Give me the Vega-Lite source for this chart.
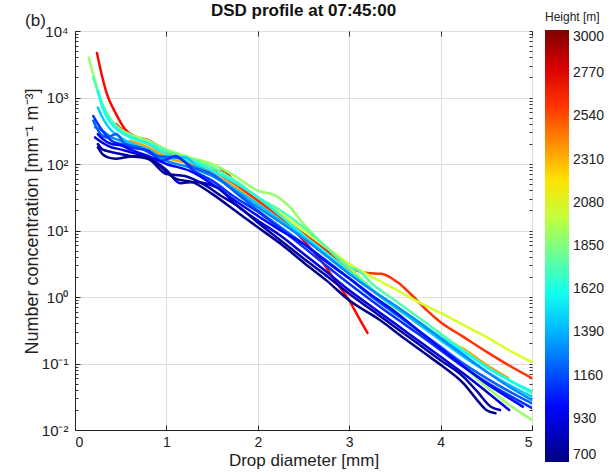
{
  "$schema": "https://vega.github.io/schema/vega-lite/v6.json",
  "width": 457,
  "height": 399,
  "autosize": {"type": "none"},
  "padding": {"left": 75, "top": 31, "right": 81, "bottom": 46},
  "background": "white",
  "config": {"view": {"stroke": "#222222", "strokeWidth": 1}, "font": "Liberation Sans"},
  "title": {"text": "DSD profile at 07:45:00", "fontSize": 17, "fontWeight": "bold", "color": "#111111", "anchor": "middle", "offset": 7, "dy": 16},
  "datasets": {
    "dsd": [
      {"h":2700,"D":0.24,"N":4680},{"h":2700,"D":0.3,"N":2000},{"h":2700,"D":0.35,"N":1120},{"h":2700,"D":0.45,"N":562},{"h":2700,"D":0.55,"N":331},{"h":2700,"D":0.65,"N":263},{"h":2700,"D":0.8,"N":229},{"h":2700,"D":1.0,"N":158},{"h":2700,"D":1.25,"N":112},{"h":2700,"D":1.5,"N":79.4},{"h":2700,"D":1.62,"N":79.4},{"h":2700,"D":1.75,"N":52.5},{"h":2700,"D":2.0,"N":28.2},{"h":2700,"D":2.25,"N":15.8},{"h":2700,"D":2.5,"N":7.08},{"h":2700,"D":2.72,"N":3.16},{"h":2700,"D":2.87,"N":1.58},{"h":2700,"D":3.0,"N":0.891},{"h":2700,"D":3.1,"N":0.501},{"h":2700,"D":3.2,"N":0.288},
      {"h":2600,"D":0.45,"N":398},{"h":2600,"D":0.6,"N":263},{"h":2600,"D":0.8,"N":200},{"h":2600,"D":1.0,"N":141},{"h":2600,"D":1.25,"N":112},{"h":2600,"D":1.5,"N":79.4},{"h":2600,"D":1.75,"N":50.1},{"h":2600,"D":2.0,"N":28.2},{"h":2600,"D":2.25,"N":15.8},{"h":2600,"D":2.5,"N":8.91},{"h":2600,"D":2.75,"N":5.01},{"h":2600,"D":3.0,"N":2.82},{"h":2600,"D":3.2,"N":2.29},{"h":2600,"D":3.35,"N":2.24},{"h":2600,"D":3.53,"N":1.66},{"h":2600,"D":3.67,"N":1.12},{"h":2600,"D":3.85,"N":0.63},{"h":2600,"D":4.0,"N":0.417},{"h":2600,"D":4.25,"N":0.251},{"h":2600,"D":4.5,"N":0.151},{"h":2600,"D":4.75,"N":0.0933},{"h":2600,"D":5.0,"N":0.0603},
      {"h":2350,"D":0.6,"N":224},{"h":2350,"D":0.8,"N":178},{"h":2350,"D":1.0,"N":126},{"h":2350,"D":1.25,"N":100},{"h":2350,"D":1.5,"N":70.8},{"h":2350,"D":1.75,"N":44.7},{"h":2350,"D":2.0,"N":25.1},{"h":2350,"D":2.25,"N":14.1},{"h":2350,"D":2.5,"N":7.94},{"h":2350,"D":2.75,"N":4.47},{"h":2350,"D":3.0,"N":2.51},{"h":2350,"D":3.25,"N":1.26},{"h":2350,"D":3.5,"N":0.708},{"h":2350,"D":3.75,"N":0.398},{"h":2350,"D":4.0,"N":0.251},{"h":2350,"D":4.25,"N":0.166},{"h":2350,"D":4.5,"N":0.0955},{"h":2350,"D":4.74,"N":0.0603},
      {"h":2050,"D":0.7,"N":251},{"h":2050,"D":0.8,"N":214},{"h":2050,"D":1.0,"N":158},{"h":2050,"D":1.25,"N":120},{"h":2050,"D":1.5,"N":89.1},{"h":2050,"D":1.75,"N":56.2},{"h":2050,"D":2.0,"N":31.6},{"h":2050,"D":2.25,"N":17.8},{"h":2050,"D":2.5,"N":10},{"h":2050,"D":2.75,"N":5.62},{"h":2050,"D":3.0,"N":3.16},{"h":2050,"D":3.25,"N":2.0},{"h":2050,"D":3.5,"N":1.32},{"h":2050,"D":3.75,"N":0.851},{"h":2050,"D":4.0,"N":0.575},{"h":2050,"D":4.25,"N":0.38},{"h":2050,"D":4.5,"N":0.251},{"h":2050,"D":4.75,"N":0.158},{"h":2050,"D":5.0,"N":0.105},
      {"h":1900,"D":0.15,"N":3980},{"h":1900,"D":0.2,"N":2240},{"h":1900,"D":0.25,"N":1260},{"h":1900,"D":0.3,"N":794},{"h":1900,"D":0.4,"N":447},{"h":1900,"D":0.5,"N":331},{"h":1900,"D":0.6,"N":282},{"h":1900,"D":0.8,"N":224},{"h":1900,"D":1.0,"N":166},{"h":1900,"D":1.25,"N":126},{"h":1900,"D":1.5,"N":100},{"h":1900,"D":1.75,"N":66.1},{"h":1900,"D":2.0,"N":39.8},{"h":1900,"D":2.2,"N":33.1},{"h":1900,"D":2.35,"N":22.4},{"h":1900,"D":2.5,"N":12.6},{"h":1900,"D":2.75,"N":5.62},{"h":1900,"D":3.0,"N":2.82},{"h":1900,"D":3.25,"N":1.32},{"h":1900,"D":3.5,"N":0.631},{"h":1900,"D":3.75,"N":0.316},{"h":1900,"D":4.0,"N":0.166},{"h":1900,"D":4.25,"N":0.0891},{"h":1900,"D":4.5,"N":0.0447},{"h":1900,"D":4.75,"N":0.024},{"h":1900,"D":5.0,"N":0.0141},
      {"h":1750,"D":0.2,"N":2000},{"h":1750,"D":0.3,"N":794},{"h":1750,"D":0.4,"N":447},{"h":1750,"D":0.5,"N":316},{"h":1750,"D":0.6,"N":263},{"h":1750,"D":0.8,"N":209},{"h":1750,"D":1.0,"N":158},{"h":1750,"D":1.25,"N":120},{"h":1750,"D":1.5,"N":89.1},{"h":1750,"D":1.75,"N":56.2},{"h":1750,"D":2.0,"N":31.6},{"h":1750,"D":2.25,"N":20},{"h":1750,"D":2.5,"N":11.2},{"h":1750,"D":2.75,"N":5.62},{"h":1750,"D":3.0,"N":2.82},{"h":1750,"D":3.1,"N":2.51},{"h":1750,"D":3.25,"N":1.58},{"h":1750,"D":3.5,"N":0.891},{"h":1750,"D":3.75,"N":0.501},{"h":1750,"D":4.0,"N":0.282},{"h":1750,"D":4.25,"N":0.158},{"h":1750,"D":4.5,"N":0.0891},{"h":1750,"D":4.75,"N":0.0562},{"h":1750,"D":5.0,"N":0.0355},
      {"h":1600,"D":0.25,"N":1260},{"h":1600,"D":0.3,"N":708},{"h":1600,"D":0.4,"N":398},{"h":1600,"D":0.5,"N":302},{"h":1600,"D":0.6,"N":251},{"h":1600,"D":0.8,"N":200},{"h":1600,"D":1.0,"N":141},{"h":1600,"D":1.25,"N":112},{"h":1600,"D":1.5,"N":79.4},{"h":1600,"D":1.75,"N":52.5},{"h":1600,"D":2.0,"N":31.6},{"h":1600,"D":2.25,"N":16.6},{"h":1600,"D":2.5,"N":8.51},{"h":1600,"D":2.75,"N":4.57},{"h":1600,"D":3.0,"N":2.4},{"h":1600,"D":3.25,"N":1.3},{"h":1600,"D":3.5,"N":0.72},{"h":1600,"D":3.75,"N":0.43},{"h":1600,"D":4.0,"N":0.251},{"h":1600,"D":4.25,"N":0.151},{"h":1600,"D":4.5,"N":0.0891},{"h":1600,"D":4.75,"N":0.0562},{"h":1600,"D":5.0,"N":0.038},
      {"h":1450,"D":0.25,"N":708},{"h":1450,"D":0.3,"N":501},{"h":1450,"D":0.4,"N":316},{"h":1450,"D":0.5,"N":251},{"h":1450,"D":0.6,"N":209},{"h":1450,"D":0.8,"N":166},{"h":1450,"D":1.0,"N":120},{"h":1450,"D":1.2,"N":126},{"h":1450,"D":1.35,"N":89.1},{"h":1450,"D":1.5,"N":70.8},{"h":1450,"D":1.75,"N":41.7},{"h":1450,"D":2.0,"N":25.1},{"h":1450,"D":2.25,"N":14.1},{"h":1450,"D":2.5,"N":7.94},{"h":1450,"D":2.75,"N":4.17},{"h":1450,"D":3.0,"N":2.24},{"h":1450,"D":3.25,"N":1.26},{"h":1450,"D":3.5,"N":0.708},{"h":1450,"D":3.75,"N":0.398},{"h":1450,"D":4.0,"N":0.224},{"h":1450,"D":4.25,"N":0.126},{"h":1450,"D":4.5,"N":0.0759},{"h":1450,"D":4.75,"N":0.0479},{"h":1450,"D":5.0,"N":0.0316},
      {"h":1300,"D":0.22,"N":355},{"h":1300,"D":0.3,"N":316},{"h":1300,"D":0.4,"N":251},{"h":1300,"D":0.5,"N":224},{"h":1300,"D":0.6,"N":191},{"h":1300,"D":0.8,"N":158},{"h":1300,"D":1.0,"N":112},{"h":1300,"D":1.25,"N":89.1},{"h":1300,"D":1.5,"N":66.1},{"h":1300,"D":1.75,"N":39.8},{"h":1300,"D":2.0,"N":22.4},{"h":1300,"D":2.25,"N":13.2},{"h":1300,"D":2.5,"N":7.59},{"h":1300,"D":2.75,"N":4.17},{"h":1300,"D":3.0,"N":2.24},{"h":1300,"D":3.25,"N":1.26},{"h":1300,"D":3.5,"N":0.75},{"h":1300,"D":3.75,"N":0.43},{"h":1300,"D":4.0,"N":0.24},{"h":1300,"D":4.25,"N":0.135},{"h":1300,"D":4.5,"N":0.0759},{"h":1300,"D":4.75,"N":0.0447},{"h":1300,"D":5.0,"N":0.0282},
      {"h":1200,"D":0.2,"N":447},{"h":1200,"D":0.28,"N":282},{"h":1200,"D":0.35,"N":251},{"h":1200,"D":0.45,"N":282},{"h":1200,"D":0.55,"N":200},{"h":1200,"D":0.7,"N":178},{"h":1200,"D":0.9,"N":132},{"h":1200,"D":1.1,"N":126},{"h":1200,"D":1.3,"N":89.1},{"h":1200,"D":1.5,"N":70.8},{"h":1200,"D":1.75,"N":38},{"h":1200,"D":2.0,"N":20},{"h":1200,"D":2.25,"N":11.2},{"h":1200,"D":2.5,"N":6.31},{"h":1200,"D":2.75,"N":3.55},{"h":1200,"D":3.0,"N":1.91},{"h":1200,"D":3.25,"N":1},{"h":1200,"D":3.5,"N":0.562},{"h":1200,"D":3.75,"N":0.316},{"h":1200,"D":4.0,"N":0.178},{"h":1200,"D":4.25,"N":0.1},{"h":1200,"D":4.5,"N":0.0603},{"h":1200,"D":4.75,"N":0.038},{"h":1200,"D":5.0,"N":0.0251},
      {"h":1100,"D":0.2,"N":525},{"h":1100,"D":0.3,"N":316},{"h":1100,"D":0.4,"N":224},{"h":1100,"D":0.5,"N":200},{"h":1100,"D":0.6,"N":178},{"h":1100,"D":0.8,"N":158},{"h":1100,"D":0.95,"N":112},{"h":1100,"D":1.1,"N":132},{"h":1100,"D":1.3,"N":79.4},{"h":1100,"D":1.5,"N":56.2},{"h":1100,"D":1.75,"N":31.6},{"h":1100,"D":2.0,"N":19.1},{"h":1100,"D":2.25,"N":10.5},{"h":1100,"D":2.5,"N":5.62},{"h":1100,"D":2.75,"N":2.95},{"h":1100,"D":3.0,"N":1.58},{"h":1100,"D":3.25,"N":0.871},{"h":1100,"D":3.5,"N":0.49},{"h":1100,"D":3.75,"N":0.282},{"h":1100,"D":4.0,"N":0.158},{"h":1100,"D":4.25,"N":0.0891},{"h":1100,"D":4.5,"N":0.0525},{"h":1100,"D":4.75,"N":0.0331},{"h":1100,"D":5.0,"N":0.0214},
      {"h":1000,"D":0.25,"N":282},{"h":1000,"D":0.3,"N":240},{"h":1000,"D":0.4,"N":200},{"h":1000,"D":0.5,"N":191},{"h":1000,"D":0.6,"N":166},{"h":1000,"D":0.8,"N":132},{"h":1000,"D":1.0,"N":100},{"h":1000,"D":1.25,"N":79.4},{"h":1000,"D":1.5,"N":50.1},{"h":1000,"D":1.75,"N":28.2},{"h":1000,"D":2.0,"N":16.6},{"h":1000,"D":2.25,"N":10},{"h":1000,"D":2.5,"N":6.31},{"h":1000,"D":2.75,"N":3.39},{"h":1000,"D":3.0,"N":1.91},{"h":1000,"D":3.25,"N":1.05},{"h":1000,"D":3.5,"N":0.6},{"h":1000,"D":3.75,"N":0.32},{"h":1000,"D":4.0,"N":0.17},{"h":1000,"D":4.25,"N":0.0912},{"h":1000,"D":4.5,"N":0.0501},{"h":1000,"D":4.75,"N":0.0302},{"h":1000,"D":4.9,"N":0.0224},
      {"h":900,"D":0.22,"N":251},{"h":900,"D":0.3,"N":209},{"h":900,"D":0.4,"N":178},{"h":900,"D":0.5,"N":166},{"h":900,"D":0.6,"N":151},{"h":900,"D":0.8,"N":126},{"h":900,"D":1.0,"N":81.3},{"h":900,"D":1.15,"N":51.3},{"h":900,"D":1.3,"N":53.7},{"h":900,"D":1.55,"N":44.7},{"h":900,"D":1.8,"N":21.9},{"h":900,"D":2.0,"N":14.1},{"h":900,"D":2.25,"N":8.32},{"h":900,"D":2.5,"N":4.47},{"h":900,"D":2.75,"N":2.4},{"h":900,"D":3.0,"N":1.26},{"h":900,"D":3.25,"N":0.708},{"h":900,"D":3.5,"N":0.398},{"h":900,"D":3.75,"N":0.224},{"h":900,"D":4.0,"N":0.126},{"h":900,"D":4.25,"N":0.0708},{"h":900,"D":4.5,"N":0.038},{"h":900,"D":4.75,"N":0.02},
      {"h":800,"D":0.25,"N":200},{"h":800,"D":0.3,"N":166},{"h":800,"D":0.4,"N":151},{"h":800,"D":0.5,"N":141},{"h":800,"D":0.6,"N":132},{"h":800,"D":0.8,"N":120},{"h":800,"D":1.0,"N":70.8},{"h":800,"D":1.2,"N":66.1},{"h":800,"D":1.4,"N":50.1},{"h":800,"D":1.6,"N":33.1},{"h":800,"D":1.8,"N":22.4},{"h":800,"D":2.0,"N":13.2},{"h":800,"D":2.25,"N":7.08},{"h":800,"D":2.5,"N":3.8},{"h":800,"D":2.75,"N":2.09},{"h":800,"D":3.0,"N":1.12},{"h":800,"D":3.25,"N":0.631},{"h":800,"D":3.5,"N":0.355},{"h":800,"D":3.75,"N":0.2},{"h":800,"D":4.0,"N":0.112},{"h":800,"D":4.25,"N":0.0631},{"h":800,"D":4.4,"N":0.038},{"h":800,"D":4.55,"N":0.0224},{"h":800,"D":4.65,"N":0.02},
      {"h":720,"D":0.25,"N":178},{"h":720,"D":0.3,"N":141},{"h":720,"D":0.36,"N":126},{"h":720,"D":0.45,"N":120},{"h":720,"D":0.55,"N":126},{"h":720,"D":0.7,"N":132},{"h":720,"D":0.9,"N":100},{"h":720,"D":1.1,"N":60.3},{"h":720,"D":1.3,"N":52.5},{"h":720,"D":1.5,"N":35.5},{"h":720,"D":1.75,"N":20},{"h":720,"D":2.0,"N":11.2},{"h":720,"D":2.25,"N":6.31},{"h":720,"D":2.5,"N":3.31},{"h":720,"D":2.75,"N":1.78},{"h":720,"D":3.0,"N":0.891},{"h":720,"D":3.34,"N":0.447},{"h":720,"D":3.6,"N":0.24},{"h":720,"D":3.8,"N":0.151},{"h":720,"D":4.0,"N":0.0955},{"h":720,"D":4.25,"N":0.0501},{"h":720,"D":4.4,"N":0.0282},{"h":720,"D":4.5,"N":0.02},{"h":720,"D":4.6,"N":0.0178}
    ]
  },
  "data": {"name": "dsd"},
  "layer": [
    {
      "mark": {"type": "line", "interpolate": "monotone", "strokeWidth": 2.5, "strokeCap": "round", "clip": true},
      "encoding": {
        "x": {"field": "D", "type": "quantitative", "scale": {"domain": [0, 5], "nice": false},
          "axis": {"values": [0, 1, 2, 3, 4, 5], "title": "Drop diameter [mm]", "titleFontSize": 17, "titleFontWeight": "normal", "titleColor": "#222222", "titleY": 35, "titleBaseline": "alphabetic",
            "labelFontSize": 14, "labelColor": "#222222", "labelPadding": 10, "tickSize": -5, "tickColor": "#222222", "domainColor": "#222222", "grid": true, "gridColor": "#dddddd"}},
        "y": {"field": "N", "type": "quantitative", "scale": {"type": "log", "domain": [0.01, 10000], "nice": false},
          "axis": {"values": [0.01, 0.1, 1, 10, 100, 1000, 10000], "title": "Number concentration [mm⁻¹ m⁻³]", "titleFontSize": 18, "titleFontWeight": "normal", "titleColor": "#222222", "titleX": -43, "titleY": 190, "titleBaseline": "middle", "titleAlign": "center",
            "labelExpr": "datum.value >= 10000 ? '10⁴' : datum.value >= 1000 ? '10³' : datum.value >= 100 ? '10²' : datum.value >= 10 ? '10¹' : datum.value >= 1 ? '10⁰' : datum.value >= 0.1 ? '10⁻¹' : '10⁻²'",
            "labelFontSize": 15, "labelColor": "#222222", "labelPadding": 12, "tickSize": -5, "tickColor": "#222222", "domainColor": "#222222", "grid": true, "gridColor": "#dddddd"}},
        "color": {"field": "h", "type": "quantitative", "title": "Height [m]",
          "scale": {"domain": [700, 987.5, 1562.5, 2137.5, 2712.5, 3000], "range": ["#000080", "#0000ff", "#00ffff", "#ffff00", "#ff0000", "#800000"], "interpolate": "rgb"},
          "legend": {"orient": "none", "legendX": 470, "legendY": -19, "direction": "vertical", "gradientLength": 432, "gradientThickness": 24, "gradientStrokeWidth": 0, "format": "d",
            "values": [700, 930, 1160, 1390, 1620, 1850, 2080, 2310, 2540, 2770, 3000], "labelOverlap": false, "labelFontSize": 14, "labelColor": "#222222", "labelOffset": 4,
            "titleFontSize": 12, "titleFontWeight": "normal", "titleColor": "#222222", "titlePadding": 6}},
        "detail": {"field": "h", "type": "nominal"}
      }
    },
    {
      "mark": {"type": "line", "opacity": 0},
      "encoding": {
        "x": {"field": "D", "type": "quantitative", "axis": null},
        "y": {"field": "N", "type": "quantitative", "scale": {"type": "log", "domain": [0.01, 10000], "nice": false},
          "axis": {"orient": "left", "values": [0.02,0.03,0.04,0.05,0.06,0.07,0.08,0.09,0.2,0.3,0.4,0.5,0.6,0.7,0.8,0.9,2,3,4,5,6,7,8,9,20,30,40,50,60,70,80,90,200,300,400,500,600,700,800,900,2000,3000,4000,5000,6000,7000,8000,9000],
            "labels": false, "grid": false, "domain": false, "tickSize": -3, "tickColor": "#333333",
            "title": "(b)", "titleAngle": 0, "titleFontSize": 17, "titleFontWeight": "normal", "titleColor": "#222222", "titleX": -40, "titleY": -11, "titleAlign": "center", "titleBaseline": "middle"}},
        "detail": {"field": "h", "type": "nominal"}
      }
    },
    {
      "mark": {"type": "line", "opacity": 0},
      "encoding": {
        "x": {"field": "D", "type": "quantitative",
          "axis": {"orient": "top", "values": [0, 1, 2, 3, 4, 5], "labels": false, "grid": false, "domain": false, "tickSize": -5, "tickColor": "#333333", "title": null}},
        "y": {"field": "N", "type": "quantitative", "scale": {"type": "log", "domain": [0.01, 10000], "nice": false},
          "axis": {"orient": "right", "values": [0.01,0.02,0.03,0.04,0.05,0.06,0.07,0.08,0.09,0.1,0.2,0.3,0.4,0.5,0.6,0.7,0.8,0.9,1,2,3,4,5,6,7,8,9,10,20,30,40,50,60,70,80,90,100,200,300,400,500,600,700,800,900,1000,2000,3000,4000,5000,6000,7000,8000,9000,10000],
            "labels": false, "grid": false, "domain": false, "tickSize": -3, "tickColor": "#333333", "title": null}},
        "detail": {"field": "h", "type": "nominal"}
      }
    }
  ],
  "resolve": {"axis": {"x": "independent", "y": "independent"}}
}
